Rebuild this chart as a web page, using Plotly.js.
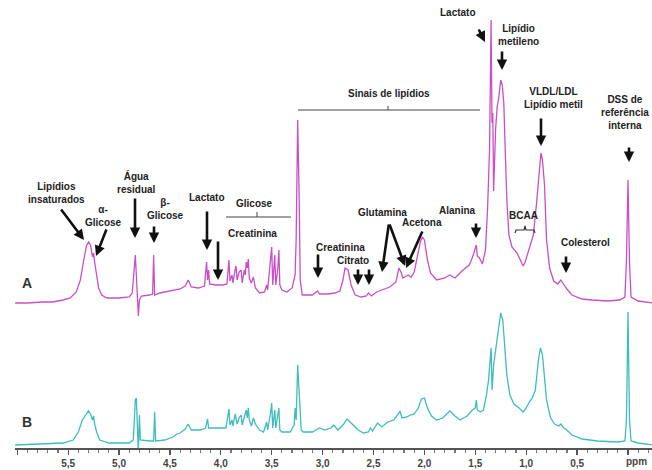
<!DOCTYPE html>
<html><head><meta charset="utf-8">
<script src="https://cdn.plot.ly/plotly-3.0.1.min.js"></script>
<style>html,body{margin:0;padding:0;background:#fff}#chart{width:652px;height:470px}</style>
</head><body><div id="chart"></div>
<script>
// Spectrum A (ppm, intensity)
const ppmA = [6.02,5.90,5.75,5.65,5.55,5.48,5.42,5.38,5.35,5.32,5.30,5.28,5.26,5.25,5.24,5.22,5.20,5.17,5.12,5.00,4.90,4.87,4.85,4.84,4.83,4.82,4.81,4.80,4.78,4.70,4.67,4.66,4.65,4.60,4.50,4.40,4.35,4.32,4.29,4.22,4.16,4.14,4.13,4.12,4.11,4.05,3.98,3.94,3.92,3.91,3.89,3.88,3.86,3.85,3.84,3.82,3.80,3.79,3.77,3.76,3.75,3.74,3.73,3.72,3.70,3.68,3.66,3.62,3.57,3.55,3.54,3.51,3.50,3.49,3.48,3.47,3.46,3.44,3.43,3.42,3.40,3.35,3.30,3.27,3.26,3.245,3.23,3.22,3.20,3.10,3.05,3.03,2.95,2.88,2.83,2.80,2.78,2.75,2.72,2.68,2.62,2.57,2.55,2.52,2.47,2.40,2.34,2.28,2.25,2.23,2.21,2.16,2.13,2.10,2.07,2.04,2.02,2.00,1.97,1.94,1.88,1.80,1.75,1.70,1.62,1.56,1.53,1.51,1.49,1.48,1.46,1.43,1.40,1.38,1.36,1.345,1.336,1.328,1.32,1.30,1.285,1.27,1.25,1.235,1.22,1.205,1.19,1.17,1.14,1.09,1.05,1.03,1.01,0.98,0.95,0.93,0.90,0.87,0.855,0.84,0.82,0.80,0.77,0.73,0.69,0.66,0.63,0.60,0.55,0.45,0.35,0.20,0.08,0.03,0.015,0.0,-0.015,-0.03,-0.10,-0.24];
const intA = [0,0,1,1,3,5,11,23,41,57,61,58,46,50,41,28,15,8,5,5,6,10,38,48,28,5,-13,3,7,8,9,48,8,10,12,14,17,23,16,15,17,41,23,33,19,18,18,19,43,22,28,20,33,37,23,31,33,20,33,28,41,35,44,25,20,26,15,10,11,18,13,41,56,18,33,48,18,35,53,18,13,11,15,28,63,183,103,23,8,8,12,9,9,10,12,23,35,33,18,8,6,7,10,7,11,14,16,21,35,31,25,28,26,31,48,61,66,63,43,30,23,25,28,25,33,38,45,51,58,47,45,39,53,93,153,283,180,190,112,175,196,205,223,218,200,150,103,68,56,50,41,37,41,51,60,68,98,138,150,143,118,63,35,22,19,23,18,14,8,4,3,2,3,6,43,123,41,6,2,0];
// Spectrum B (ppm, intensity)
const ppmB = [6.02,5.80,5.55,5.45,5.40,5.36,5.32,5.30,5.28,5.26,5.25,5.24,5.22,5.19,5.10,4.90,4.86,4.84,4.83,4.82,4.81,4.80,4.79,4.70,4.66,4.65,4.64,4.55,4.47,4.43,4.40,4.35,4.32,4.29,4.20,4.15,4.13,4.12,4.05,3.95,3.92,3.91,3.89,3.88,3.86,3.84,3.82,3.80,3.79,3.77,3.75,3.74,3.73,3.72,3.70,3.68,3.66,3.62,3.58,3.55,3.54,3.51,3.50,3.49,3.47,3.46,3.43,3.42,3.40,3.32,3.28,3.27,3.26,3.245,3.23,3.21,3.19,3.10,3.05,3.03,2.98,2.92,2.89,2.85,2.80,2.76,2.70,2.65,2.60,2.55,2.53,2.51,2.46,2.42,2.36,2.30,2.25,2.24,2.22,2.17,2.14,2.10,2.06,2.03,2.00,1.97,1.93,1.88,1.82,1.75,1.70,1.65,1.58,1.53,1.50,1.49,1.48,1.45,1.42,1.39,1.37,1.345,1.335,1.32,1.30,1.27,1.25,1.23,1.21,1.19,1.16,1.12,1.07,1.03,1.00,0.97,0.94,0.91,0.88,0.86,0.84,0.82,0.80,0.76,0.72,0.68,0.66,0.63,0.60,0.55,0.45,0.30,0.10,0.03,0.015,0.0,-0.015,-0.03,-0.10,-0.24];
const intB = [0,1,2,5,13,25,32,34,31,25,29,21,13,5,2,2,5,45,47,25,-7,30,5,4,4,33,4,5,8,11,12,16,21,15,15,17,26,17,17,17,36,20,25,19,31,21,27,30,20,27,35,27,37,25,19,27,21,15,13,23,15,33,42,17,35,17,37,15,13,13,20,37,25,80,45,15,13,13,16,17,15,17,20,15,20,26,20,15,12,13,17,14,22,18,23,25,32,34,27,28,30,31,37,46,47,37,29,25,27,34,29,25,29,35,37,45,35,33,35,50,65,97,55,80,95,120,132,125,100,70,50,41,37,33,37,43,47,55,85,97,90,70,45,27,21,19,21,17,15,10,6,4,3,4,25,133,25,4,2,0];
const tickVals = [6.0,5.5,5.0,4.5,4.0,3.5,3.0,2.5,2.0,1.5,1.0,0.5,0.0];
const tickText = ['','5,5','5,0','4,5','4,0','3,5','3,0','2,5','2,0','1,5','1,0','0,5',''];

// layout helpers (pixel -> paper)
const L=15, PW=637, PH=448;
const fx = x => (x-L)/PW, fy = y => (PH-y)/PH;
const FONT = {family:'Liberation Sans, Arial, sans-serif', size:10, color:'#222'};
function txt(t,x,y,size){return {text:'<b>'+t+'</b>',x:fx(x),y:fy(y),xref:'paper',yref:'paper',showarrow:false,xanchor:'center',yanchor:'middle',font:Object.assign({},FONT,size?{size:size,color:'#333'}:{})};}
function arr(x0,y0,x1,y1){return {text:'',x:fx(x1),y:fy(y1),xref:'paper',yref:'paper',ax:x0-x1,ay:y0-y1,showarrow:true,arrowhead:2,arrowsize:0.8,arrowwidth:2.6,arrowcolor:'#111',standoff:0};}
function line(x0,y0,x1,y1,w){return {type:'line',xref:'paper',yref:'paper',x0:fx(x0),y0:fy(y0),x1:fx(x1),y1:fy(y1),line:{color:'#444',width:w||1}};}

const annotations = [
  txt('Lipídios<br>insaturados',56,193), arr(60,208,84,240),
  txt('α-<br>Glicose',103,216), arr(107,228,96,256),
  txt('Água<br>residual',136,182), arr(135,197,135,238),
  txt('β-<br>Glicose',165,209), arr(154,225,154,243),
  txt('Lactato',207,197), arr(207,210,207,250),
  arr(218,240,218,280),
  txt('Glicose',254,203), txt('Creatinina',252,233),
  txt('Sinais de lipídios',389,93),
  txt('Lactato',458,13), arr(478,28,485,42),
  txt('Lipídio<br>metileno',518,35), arr(502,50,502,70),
  txt('VLDL/LDL<br>Lipídio metil',553,98), arr(541,117,541,146),
  txt('DSS de<br>referência<br>interna',625,112), arr(629,146,629,162),
  txt('Creatinina',340,247), arr(318,253,318,278),
  txt('Citrato',353,260), arr(358,268,358,285), arr(369,268,369,285),
  txt('Glutamina',382,212), arr(389,223,382,272), arr(389,223,405,266),
  txt('Acetona',422,223), arr(423,230,406,268),
  txt('Alanina',457,210), arr(476,222,476,238),
  txt('BCAA',523,215),
  txt('Colesterol',585,242), arr(566,255,566,273),
  txt('A',27,283,14), txt('B',27,422,14),
  {text:'<b>ppm</b>',x:fx(636),y:fy(461),xref:'paper',yref:'paper',showarrow:false,xanchor:'center',yanchor:'middle',font:{family:FONT.family,size:10,color:'#444'}}
];
const shapes = [
  line(298,110,480,110), line(388,106,388,110),
  line(226,217,291,217), line(257,212,257,217),
  {type:'path',xref:'paper',yref:'paper',line:{color:'#333',width:1.2},
   path:'M'+fx(515)+','+fy(233)+' L'+fx(516)+','+fy(230)+' L'+fx(524)+','+fy(230)+' L'+fx(525)+','+fy(226)+' L'+fx(526)+','+fy(230)+' L'+fx(534)+','+fy(230)+' L'+fx(535)+','+fy(233)}
];

const traces = [
  {x:ppmA,y:intA,type:'scatter',mode:'lines',yaxis:'y2',line:{color:'#c94fc9',width:1.3},hoverinfo:'skip'},
  {x:ppmB,y:intB,type:'scatter',mode:'lines',yaxis:'y',line:{color:'#3dbdbd',width:1.3},hoverinfo:'skip'}
];
const layout = {
  width:652,height:470,paper_bgcolor:'#fff',plot_bgcolor:'#fff',showlegend:false,
  margin:{l:15,r:0,t:0,b:22,autoexpand:false},
  xaxis:{range:[6.022,-0.236],showgrid:false,zeroline:false,showline:true,linecolor:'#555',linewidth:1.5,
    tickmode:'array',tickvals:tickVals,ticktext:tickText,ticks:'outside',ticklen:5,tickwidth:1.2,tickcolor:'#555',
    minor:{dtick:0.1,tick0:0,ticks:'outside',ticklen:3,tickcolor:'#777'},
    tickfont:{family:'Liberation Sans, Arial, sans-serif',size:10,color:'#444',weight:'bold'}},
  yaxis:{range:[-3,445],visible:false,fixedrange:true},
  yaxis2:{range:[-145,303],visible:false,overlaying:'y',fixedrange:true},
  annotations:annotations, shapes:shapes
};
Plotly.newPlot('chart',traces,layout,{staticPlot:true,displayModeBar:false});
</script></body></html>
